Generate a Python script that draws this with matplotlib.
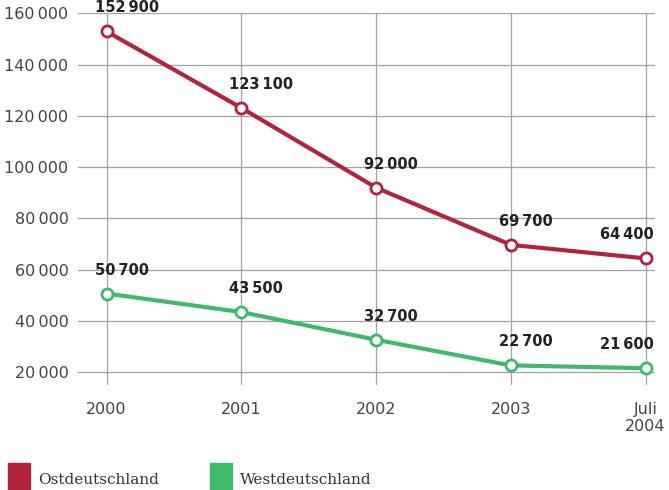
import matplotlib
matplotlib.use("Agg")
import matplotlib.pyplot as plt
from matplotlib.patches import Rectangle

# Werte aus der Grafik
jahre = ["2000", "2001", "2002", "2003", "Juli\n2004"]
ost = [152900, 123100, 92000, 69700, 64400]
west = [50700, 43500, 32700, 22700, 21600]
y_ticks = [20000, 40000, 60000, 80000, 100000, 120000, 140000, 160000]

ROT = "#b0243e"
GRUEN = "#3fba6c"
GRAU = "#a3a3a3"


def fmt(v):
    return f"{v:,}".replace(",", "\u2009")


fig = plt.figure(figsize=(6.69, 4.9), dpi=100)
ax = fig.add_axes([0.117, 0.214, 0.862, 0.759])

x = list(range(len(jahre)))
for werte, farbe in [(ost, ROT), (west, GRUEN)]:
    ax.plot(x, werte, color=farbe, lw=3, marker="o", ms=8,
            mfc="white", mec=farbe, mew=2, zorder=3)
    for i, v in enumerate(werte):
        if i == len(werte) - 1:
            ax.annotate(fmt(v), (x[i], v), xytext=(8, 16), textcoords="offset pixels",
                        ha="right", va="bottom", fontsize=10.5, fontweight="bold",
                        color="#222222")
        else:
            ax.annotate(fmt(v), (x[i], v), xytext=(-12, 16), textcoords="offset pixels",
                        ha="left", va="bottom", fontsize=10.5, fontweight="bold",
                        color="#222222")

ax.set_xlim(-0.21, 4.07)
ax.set_ylim(15000, 160000)
ax.set_yticks(y_ticks)
ax.set_yticklabels([fmt(t) for t in y_ticks])
ax.set_xticks(x)
ax.set_xticklabels(jahre)
ax.grid(True, color=GRAU, lw=0.9)
ax.set_axisbelow(True)
for s in ax.spines.values():
    s.set_visible(False)
ax.tick_params(axis="both", length=0, labelsize=11.5, labelcolor="#444444")
ax.tick_params(axis="y", pad=7)
ax.tick_params(axis="x", pad=12)

# Legende
for xpos, farbe, name in [(8, ROT, "Ostdeutschland"), (210, GRUEN, "Westdeutschland")]:
    fig.patches.append(Rectangle((xpos / 669, 0), 22 / 669, 27 / 490,
                                 transform=fig.transFigure, color=farbe))
    fig.text((xpos + 30) / 669, 10 / 490, name, fontsize=11, family="DejaVu Serif",
             color="#333333", va="center")

fig.savefig("out.png", dpi=100)
